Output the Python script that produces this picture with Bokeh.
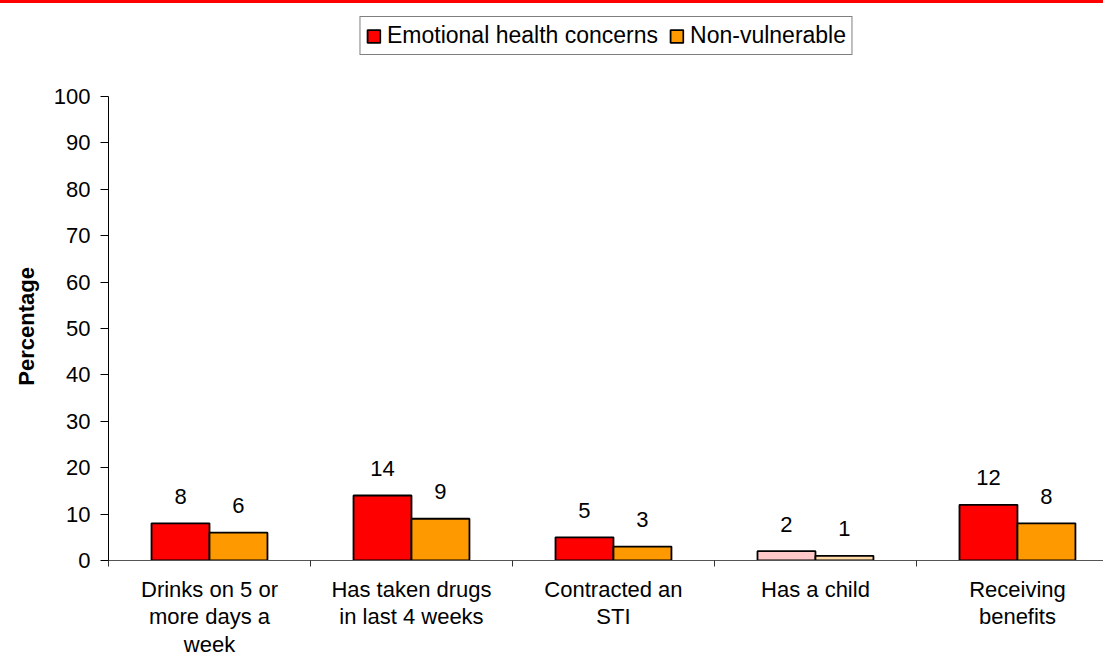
import numpy as np
from bokeh.plotting import figure
from bokeh.models import (ColumnDataSource, Range1d, FixedTicker, Legend, LegendItem,
                          InlineStyleSheet)
from bokeh.core.properties import value
from bokeh.embed import file_html
from bokeh.resources import INLINE

categories = ["Drinks on 5 or\nmore days a\nweek", "Has taken drugs\nin last 4 weeks",
              "Contracted an\nSTI", "Has a child", "Receiving\nbenefits"]
emotional = [8, 14, 5, 2, 12]
nonvulnerable = [6, 9, 3, 1, 8]
series_names = ["Emotional health concerns", "Non-vulnerable"]
y_ticks = [0, 10, 20, 30, 40, 50, 60, 70, 80, 90, 100]
y_title = "Percentage"

FONT = "Liberation Sans"
RED, ORANGE = "#FF0000", "#FF9900"
RED_LIGHT, ORANGE_LIGHT = "#FFC9C9", "#FFD9A8"
faded = [False, False, False, True, False]

n = len(categories)
centers = np.arange(n) + 0.5
bw = 0.287

src_e = ColumnDataSource(dict(
    x=centers - bw / 2, top=emotional, lab=[str(v) for v in emotional],
    color=[RED_LIGHT if f else RED for f in faded]))
src_n = ColumnDataSource(dict(
    x=centers + bw / 2, top=nonvulnerable, lab=[str(v) for v in nonvulnerable],
    color=[ORANGE_LIGHT if f else ORANGE for f in faded]))

p = figure(width=1103, height=659, output_backend="svg", toolbar_location=None,
           x_range=Range1d(0, 4.926), y_range=Range1d(0, 120.65),
           min_border_left=108, min_border_right=0, min_border_top=0, min_border_bottom=98)
p.outline_line_color = None
p.xgrid.visible = False
p.ygrid.visible = False
p.background_fill_color = "white"
p.border_fill_color = "white"
p.stylesheets = [InlineStyleSheet(css=":host::after { content: ''; position: absolute; "
                                      "left: 0; top: 0; width: 1103px; height: 3px; "
                                      "background: #FF0000; z-index: 10; }")]

r1 = p.vbar(x="x", top="top", width=bw, bottom=0, source=src_e,
            fill_color="color", line_color="black", line_width=1.8)
r2 = p.vbar(x="x", top="top", width=bw, bottom=0, source=src_n,
            fill_color="color", line_color="black", line_width=1.8)

for src in (src_e, src_n):
    p.text(x="x", y="top", text="lab", source=src, text_align="center",
           text_baseline="alphabetic", y_offset=-27, text_font_size="22px",
           text_font=value(FONT), text_color="black")

# y axis
ya = p.yaxis[0]
ya.ticker = FixedTicker(ticks=y_ticks)
ya.bounds = (0, 100)
ya.axis_line_color = "black"
ya.major_tick_line_color = "black"
ya.major_tick_out = 8
ya.major_tick_in = 0
ya.minor_tick_line_color = None
ya.major_label_text_font = FONT
ya.major_label_text_font_size = "22px"
ya.major_label_text_color = "black"
ya.major_label_standoff = 10
# trailing non-breaking spaces centre the title on the 0-100 part of the axis
ya.axis_label = y_title + "\u00a0" * 15
ya.axis_label_text_font = FONT
ya.axis_label_text_font_size = "22px"
ya.axis_label_text_font_style = "bold"
ya.axis_label_text_color = "black"
ya.axis_label_standoff = 12

# x axis: labels at category centres, tick marks at category boundaries
xa = p.xaxis[0]
xa.ticker = FixedTicker(ticks=list(centers), minor_ticks=list(np.arange(n)))
xa.major_label_overrides = {float(c): lab for c, lab in zip(centers, categories)}
xa.axis_line_color = "#555555"
xa.major_tick_out = 0
xa.major_tick_in = 0
xa.major_tick_line_color = None
xa.minor_tick_out = 6
xa.minor_tick_in = 0
xa.minor_tick_line_color = "#333333"
xa.major_label_text_font = FONT
xa.major_label_text_font_size = "22px"
xa.major_label_text_color = "black"
xa.major_label_text_line_height = 1.1
xa.major_label_standoff = 10
xa.major_label_orientation = "horizontal"

legend = Legend(items=[LegendItem(label=series_names[0], renderers=[r1], index=0),
                       LegendItem(label=series_names[1], renderers=[r2], index=0)],
                location="top_center", orientation="horizontal")
legend.label_text_font = FONT
legend.label_text_font_size = "23px"
legend.label_text_color = "black"
legend.border_line_color = "black"
legend.border_line_width = 1
legend.background_fill_alpha = 1
legend.padding = 5
legend.margin = 16
legend.spacing = 10
legend.glyph_width = 16
legend.glyph_height = 16
legend.label_standoff = 6
p.add_layout(legend, "center")

open("out.html", "w").write(file_html(p, INLINE))
